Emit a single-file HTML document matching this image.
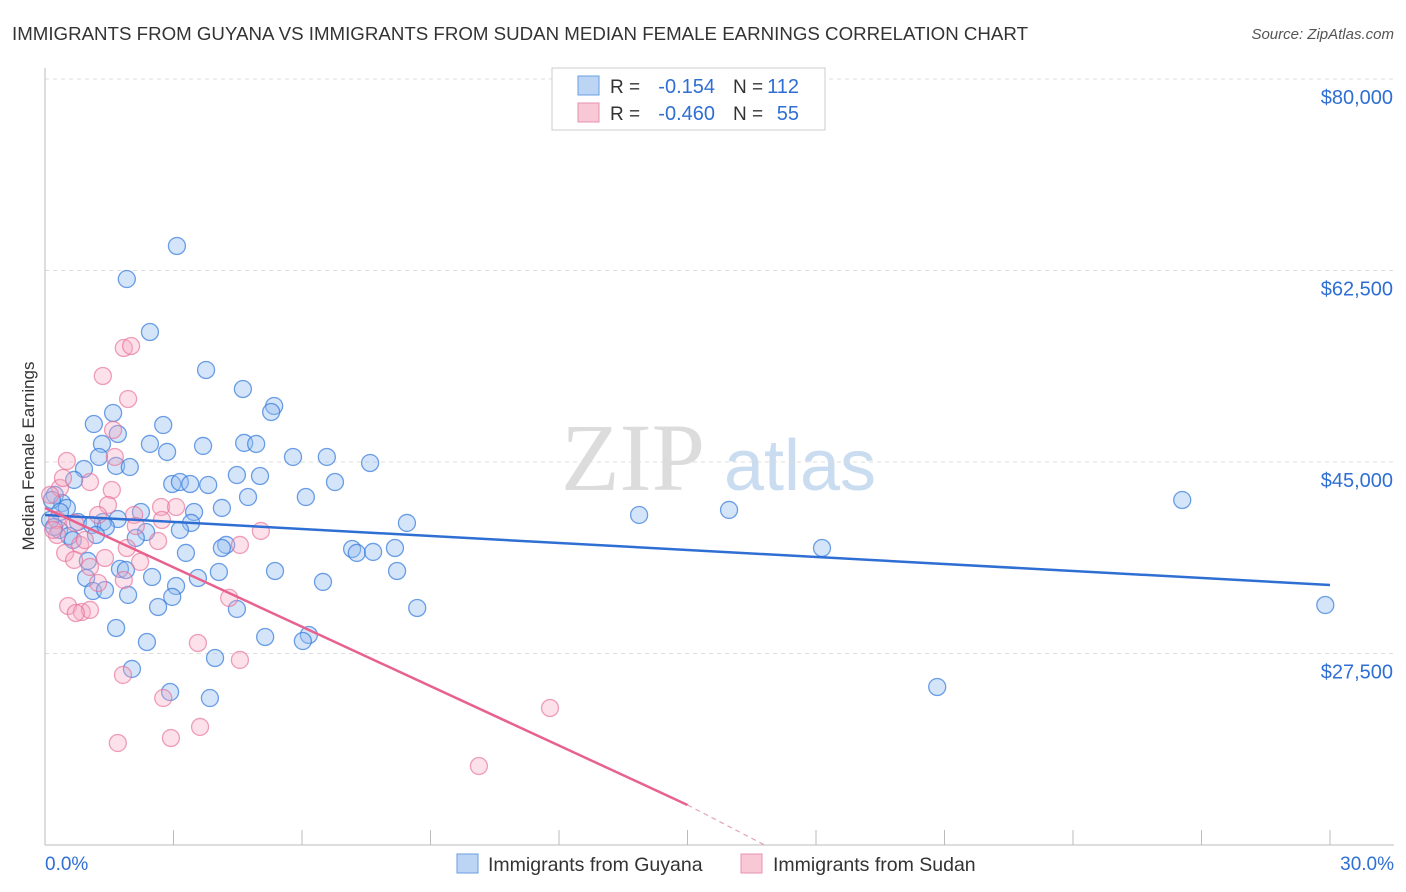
<!DOCTYPE html>
<html><head><meta charset="utf-8"><style>
body{margin:0;background:#fff;font-family:"Liberation Sans",sans-serif}
svg{display:block}
</style></head><body>
<svg id="chart" width="1406" height="892">
<text x="12" y="40" font-size="18" fill="#333" textLength="1016" lengthAdjust="spacingAndGlyphs">IMMIGRANTS FROM GUYANA VS IMMIGRANTS FROM SUDAN MEDIAN FEMALE EARNINGS CORRELATION CHART</text>
<text x="1394" y="39" font-size="15" fill="#555" font-style="italic" text-anchor="end">Source: ZipAtlas.com</text>
<g><text x="633" y="490" font-size="96" fill="#dcdcdc" text-anchor="middle" font-family="Liberation Serif,serif">ZIP</text><text x="800" y="490" font-size="72" fill="#c9dcf0" text-anchor="middle">atlas</text></g>
<g id="grid"></g><g id="axes"></g><g id="pts"></g><g id="lines"></g>
<text transform="translate(34,456) rotate(-90)" font-size="17" fill="#333" text-anchor="middle">Median Female Earnings</text>
<g>
<rect x="552" y="68" width="273" height="62" fill="#fff" stroke="#ccc"/>
<rect x="578" y="76" width="21" height="19" fill="#bcd5f5" stroke="#6a9ee0"/>
<rect x="578" y="103" width="21" height="19" fill="#f8c8d6" stroke="#e890ad"/>
<text x="610" y="93" font-size="19" fill="#333">R =</text>
<text x="715" y="93" font-size="20" fill="#2f6fd4" text-anchor="end">-0.154</text>
<text x="733" y="93" font-size="19" fill="#333">N =</text>
<text x="799" y="93" font-size="20" fill="#2f6fd4" text-anchor="end">112</text>
<text x="610" y="120" font-size="19" fill="#333">R =</text>
<text x="715" y="120" font-size="20" fill="#2f6fd4" text-anchor="end">-0.460</text>
<text x="733" y="120" font-size="19" fill="#333">N =</text>
<text x="799" y="120" font-size="20" fill="#2f6fd4" text-anchor="end">55</text>
</g>
<g>
<rect x="457" y="854" width="21" height="19" fill="#bcd5f5" stroke="#6a9ee0"/>
<text x="488" y="871" font-size="19.5" fill="#333">Immigrants from Guyana</text>
<rect x="741" y="854" width="21" height="19" fill="#f8c8d6" stroke="#e890ad"/>
<text x="773" y="871" font-size="19.5" fill="#333">Immigrants from Sudan</text>
</g>
</svg>
<script>
const blueX=[3.08,1.91,2.45,3.76,4.62,5.35,5.28,1.59,1.14,2.76,1.70,1.33,2.45,3.69,4.65,4.93,2.85,1.26,5.79,6.58,7.59,1.66,1.98,0.91,4.48,5.02,2.97,3.15,3.39,3.81,6.77,0.68,4.74,6.09,0.23,0.40,26.55,0.51,4.13,2.24,3.48,13.87,15.97,1.70,1.35,0.77,1.10,8.45,3.41,1.42,3.15,2.36,0.33,0.56,0.65,1.19,2.12,4.23,4.13,7.17,7.28,7.66,8.17,3.29,18.14,1.00,1.75,1.89,4.06,5.37,8.22,3.57,2.50,0.96,6.49,3.06,1.12,1.40,1.94,2.97,2.64,4.48,8.69,29.89,1.66,5.14,6.16,6.02,2.38,3.97,2.03,2.92,3.85,20.83,0.16,0.35,0.12,0.21];
const blueY=[64740,61720,56880,53410,51670,50120,49570,49480,48470,48380,47560,46650,46650,46470,46740,46650,45920,45460,45460,45460,44910,44640,44540,44360,43810,43720,42990,43170,42990,42900,43170,43360,41800,41800,41990,41250,41530,40800,40800,40430,40430,40160,40620,39790,39520,39520,39240,39430,39430,39060,38790,38600,38790,38240,37870,38330,38060,37420,37140,37050,36690,36780,37140,36690,37140,35960,35230,35130,34950,35040,35040,34400,34490,34400,34040,33670,33210,33300,32850,32670,31750,31570,31660,31930,29830,29010,29190,28640,28550,27090,26090,23980,23430,24440,41530,40430,39700,39060];
const pinkX=[1.84,2.01,1.35,1.94,1.59,1.63,0.51,1.05,1.56,0.35,0.12,1.47,2.71,3.06,2.08,1.24,0.28,0.70,2.73,2.12,5.04,0.28,0.82,1.91,4.55,2.64,0.47,1.40,2.22,0.68,1.05,1.84,1.24,4.30,0.54,0.86,1.05,0.72,3.57,4.55,1.82,2.76,3.62,2.94,1.70,11.79,10.13,0.42,0.19,0.93];
const pinkY=[55420,55600,52860,50760,47930,45460,45090,43170,42440,42630,41990,41070,40890,40890,40160,40160,39700,39430,39700,39150,38700,38330,37420,37140,37420,37780,36690,36230,35870,36050,35410,34220,33940,32580,31840,31290,31480,31200,28460,26910,25540,23430,20790,19780,19320,22520,17220,43540,38790,37870];
const yTicks=[80000,62500,45000,27500];
const yTickLabels=["$80,000","$62,500","$45,000","$27,500"];
const xTicks=[0,3,6,9,12,15,18,21,24,27,30];
const blueLine=[40160,33760];
const pinkLine=[40800,13660];
const pinkDashEnd=[16.8,10000];
const NS="http://www.w3.org/2000/svg";
const sx=v=>45+v*(1330-45)/30;
const sy=v=>79+(80000-v)*191.5/17500;
function mk(tag,attrs,parent){const e=document.createElementNS(NS,tag);for(const k in attrs)e.setAttribute(k,attrs[k]);document.getElementById(parent).appendChild(e);return e;}
yTicks.forEach((t,i)=>{
 const l=mk('line',{x1:45,x2:1394,y1:sy(t),y2:sy(t),stroke:'#ddd','stroke-dasharray':'4,4'},'grid');
 
 
 const tx=mk('text',{x:1393,y:sy(t)+25,'font-size':20,fill:'#2f6fd4','text-anchor':'end'},'axes');
 tx.textContent=yTickLabels[i];
 
 
});
let ax=mk('line',{x1:45,x2:45,y1:68,y2:845,stroke:'#bbb'},'axes');


ax=mk('line',{x1:45,x2:1394,y1:845,y2:845,stroke:'#bbb'},'axes');


xTicks.forEach(t=>{
 const l=mk('line',{x1:sx(t),x2:sx(t),y1:830,y2:845,stroke:'#bbb'},'axes');
 
 
});
let xl=mk('text',{x:45,y:870,'font-size':19,fill:'#2f6fd4'},'axes');xl.textContent='0.0%';


xl=mk('text',{x:1394,y:870,'font-size':19,fill:'#2f6fd4','text-anchor':'end'},'axes');xl.textContent='30.0%';


blueX.forEach((x,i)=>{
 const c=mk('circle',{cx:sx(x),cy:sy(blueY[i]),r:8.5,fill:'rgba(150,190,240,0.4)',stroke:'rgba(50,120,220,0.7)','stroke-width':1.3},'pts');
 
 
});
pinkX.forEach((x,i)=>{
 const c=mk('circle',{cx:sx(x),cy:sy(pinkY[i]),r:8.5,fill:'rgba(245,170,195,0.35)',stroke:'rgba(230,110,150,0.65)','stroke-width':1.3},'pts');
 
 
});
let ln=mk('line',{x1:sx(0),y1:sy(blueLine[0]),x2:sx(30),y2:sy(blueLine[1]),stroke:'#2f6fd4','stroke-width':2.5},'lines');


ln=mk('line',{x1:sx(0),y1:sy(pinkLine[0]),x2:sx(15),y2:sy(pinkLine[1]),stroke:'#e8628e','stroke-width':2.5},'lines');


ln=mk('line',{x1:sx(15),y1:sy(pinkLine[1]),x2:sx(pinkDashEnd[0]),y2:sy(pinkDashEnd[1]),stroke:'#e8a0b8','stroke-width':1.2,'stroke-dasharray':'5,4'},'lines');


</script>
</body></html>
